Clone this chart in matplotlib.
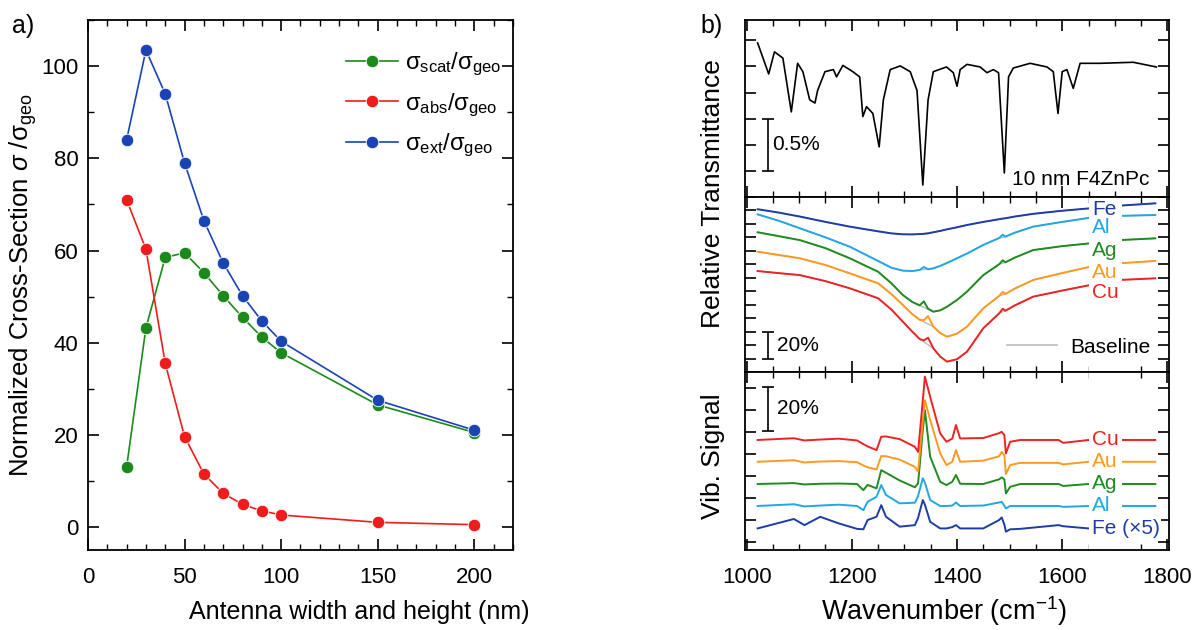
import matplotlib
matplotlib.use("Agg")
import matplotlib.pyplot as plt
import numpy as np
from matplotlib.ticker import MultipleLocator
from matplotlib.lines import Line2D

plt.rcParams["font.family"] = ["Liberation Sans", "DejaVu Sans"]
plt.rcParams["mathtext.fontset"] = "custom"
plt.rcParams["mathtext.rm"] = "Liberation Sans"
plt.rcParams["mathtext.it"] = "Liberation Sans:italic"
plt.rcParams["mathtext.bf"] = "Liberation Sans:bold"
plt.rcParams["xtick.direction"] = "in"
plt.rcParams["ytick.direction"] = "in"
plt.rcParams["xtick.top"] = True
plt.rcParams["ytick.right"] = True

# ---------------------------------------------------------------------------
# Data, panel a: normalized cross-sections vs antenna size
# ---------------------------------------------------------------------------
SIZE_NM = [20, 30, 40, 50, 60, 70, 80, 90, 100, 150, 200]
SIGMA_SCAT = [13.0, 43.2, 58.5, 59.5, 55.2, 50.2, 45.5, 41.2, 37.8, 26.5, 20.5]
SIGMA_ABS = [71.0, 60.3, 35.5, 19.6, 11.5, 7.3, 4.9, 3.5, 2.6, 1.0, 0.5]
SIGMA_EXT = [84.0, 103.5, 94.0, 79.0, 66.5, 57.3, 50.2, 44.7, 40.3, 27.5, 21.0]

# ---------------------------------------------------------------------------
# Data, panel b top: 10 nm F4ZnPc reference transmittance (%)
# ---------------------------------------------------------------------------
REF_WN = [1021, 1042, 1053, 1069, 1085, 1097, 1107, 1120, 1130, 1135, 1149,
          1165, 1171, 1183, 1202, 1215, 1221, 1228, 1240, 1252, 1260, 1273,
          1292, 1311, 1324, 1335, 1345, 1355, 1380, 1393, 1400, 1406, 1419,
          1444, 1457, 1469, 1479, 1490, 1498, 1507, 1539, 1571, 1583, 1592,
          1600, 1609, 1621, 1634, 1672, 1735, 1779]
REF_T = [1.475, 1.178, 1.39, 1.33, 0.815, 1.28, 1.2, 0.93, 0.9, 1.02, 1.2,
         1.22, 1.15, 1.26, 1.2, 1.15, 0.77, 0.865, 0.8, 0.48, 0.93, 1.22,
         1.255, 1.2, 1.02, 0.115, 0.93, 1.2, 1.245, 1.19, 1.06, 1.22, 1.27,
         1.245, 1.19, 1.22, 1.19, 0.23, 1.15, 1.235, 1.28, 1.245, 1.2, 0.8,
         1.2, 1.22, 1.04, 1.28, 1.28, 1.29, 1.245]

# ---------------------------------------------------------------------------
# Data, panel b middle: relative transmittance (%), offset curves
# ---------------------------------------------------------------------------
METALS = ["Fe", "Al", "Ag", "Au", "Cu"]
METAL_COLORS = ["#1d3ca8", "#22a6e6", "#1e8c1e", "#ff9922", "#ee2222"]

REL_WN = [1021, 1060, 1101, 1150, 1196, 1250, 1275, 1297, 1315, 1329, 1337,
          1345, 1355, 1368, 1381, 1400, 1419, 1450, 1480, 1487, 1492, 1510,
          1545, 1600, 1653, 1710, 1777]
# points that belong to the vibrational bumps (left out of the baselines)
REL_BUMP_WN = [1337, 1345, 1487]
REL_T = {
    "Fe": [120.9, 118.5, 115.5, 111.5, 108.0, 104.5, 103.0, 102.3, 102.2,
           102.5, 102.6, 103.0, 103.8, 104.8, 106.0, 107.5, 109.2, 111.5,
           113.5, 114.0, 114.2, 115.5, 117.5, 119.8, 121.6, 123.6, 125.3],
    "Al": [117.1, 112.5, 106.8, 100.0, 93.1, 82.5, 77.5, 75.3, 75.0, 75.8,
           78.0, 76.3, 77.0, 78.8, 81.0, 84.5, 88.0, 94.4, 99.5, 102.0, 100.5,
           103.5, 108.0, 111.5, 114.6, 116.0, 116.6],
    "Ag": [103.8, 101.0, 98.0, 92.0, 84.5, 74.5, 66.0, 57.2, 52.0, 49.5, 52.5,
           47.0, 44.8, 45.8, 48.5, 53.5, 59.7, 72.0, 80.0, 83.0, 81.5, 85.0,
           90.6, 93.5, 95.6, 98.0, 99.3],
    "Au": [89.4, 87.0, 84.5, 79.5, 73.3, 65.9, 58.0, 49.8, 43.0, 38.8, 38.5,
           41.5, 33.7, 29.0, 26.2, 28.5, 33.7, 47.3, 56.5, 59.5, 58.0, 62.0,
           68.4, 73.5, 78.2, 80.8, 82.5],
    "Cu": [75.0, 73.5, 72.0, 67.5, 62.2, 54.8, 46.5, 37.4, 30.0, 24.5, 23.5,
           25.5, 17.6, 11.5, 7.7, 9.5, 15.1, 32.5, 43.5, 47.0, 45.5, 49.5,
           56.0, 60.5, 64.6, 68.4, 69.6],
}

# ---------------------------------------------------------------------------
# Data, panel b bottom: vibrational signal (%), offset curves
# ---------------------------------------------------------------------------
VIB_WN = [1021, 1090, 1110, 1140, 1175, 1210, 1222, 1230, 1247, 1256, 1265,
          1291, 1320, 1326, 1335, 1339, 1349, 1368, 1380, 1391, 1398, 1406,
          1450, 1480, 1485, 1490, 1493, 1501, 1520, 1593, 1602, 1650, 1777]
VIB_S = {
    "Cu": [46.4, 47.2, 46.2, 46.6, 47.0, 46.2, 44.5, 43.5, 41.8, 47.9, 48.0,
           46.8, 43.3, 41.0, 64.5, 75.2, 66.0, 49.4, 45.6, 47.0, 53.2, 47.1,
           47.3, 49.5, 50.1, 48.6, 40.3, 45.6, 46.4, 46.4, 45.1, 46.4, 46.4],
    "Au": [36.5, 37.2, 36.2, 36.6, 36.8, 36.3, 34.8, 34.0, 33.0, 39.1, 39.0,
           37.5, 34.2, 32.0, 55.5, 64.5, 55.5, 40.3, 35.0, 36.5, 41.8, 36.5,
           37.0, 39.0, 41.0, 39.5, 30.9, 35.0, 36.0, 36.0, 35.3, 36.5, 36.5],
    "Ag": [26.4, 26.8, 26.2, 26.5, 26.6, 26.4, 23.6, 26.0, 24.4, 32.7, 31.5,
           28.0, 24.9, 26.7, 50.9, 60.0, 38.8, 27.4, 25.9, 27.4, 30.5, 26.5,
           26.4, 28.5, 29.4, 28.5, 22.1, 25.1, 26.4, 26.4, 25.5, 26.4, 26.4],
    "Al": [16.4, 17.2, 16.2, 16.6, 17.0, 16.4, 14.5, 18.3, 20.6, 25.9, 21.4,
           17.6, 17.9, 21.0, 29.0, 27.0, 19.1, 16.4, 16.4, 16.6, 18.0, 16.4,
           16.6, 18.0, 18.3, 16.5, 15.3, 16.4, 16.4, 16.4, 16.0, 16.4, 16.4],
    "Fe": [6.2, 10.5, 7.7, 11.5, 8.5, 6.0, 5.8, 10.0, 11.5, 16.8, 11.5,
           7.0, 7.7, 11.0, 19.1, 17.0, 9.2, 6.2, 6.2, 6.8, 7.7, 6.2,
           6.2, 10.0, 11.2, 8.0, 4.7, 5.8, 6.0, 7.7, 7.2, 6.2, 6.2],
}
VIB_LABELS = {"Cu": "Cu", "Au": "Au", "Ag": "Ag", "Al": "Al", "Fe": "Fe (\u00d75)"}

# label positions (text anchors) for panel b
REL_LABEL_Y = {"Fe": 121, "Al": 107, "Ag": 90, "Au": 74, "Cu": 59.4}
LABEL_WN = 1657
LABEL_GAP = (1651, 1713)

GREEN = "#1b8a1b"
RED = "#f01c1c"
BLUE = "#1a44b4"
TICK_FS = 16


def style_ticks(ax):
    ax.tick_params(which="major", length=8, width=1.2, labelsize=TICK_FS)
    ax.tick_params(which="minor", length=4.5, width=1.0)
    for sp in ax.spines.values():
        sp.set_linewidth(1.3)


fig = plt.figure(figsize=(11.97, 6.30), dpi=100)
fig.patch.set_facecolor("white")

# ---------------------------------------------------------------------------
# Panel a
# ---------------------------------------------------------------------------
ax = fig.add_axes([0.0735, 0.127, 0.355, 0.841])
for vals, col, lab in [(SIGMA_SCAT, GREEN, r"$\mathregular{\sigma_{scat}/\sigma_{geo}}$"),
                       (SIGMA_ABS, RED, r"$\mathregular{\sigma_{abs}/\sigma_{geo}}$"),
                       (SIGMA_EXT, BLUE, r"$\mathregular{\sigma_{ext}/\sigma_{geo}}$")]:
    ax.plot(SIZE_NM, vals, color=col, lw=1.2, marker="o", markersize=9,
            markeredgecolor="white", markeredgewidth=0.6, label=lab)
ax.set_xlim(0, 220)
ax.set_ylim(-5, 110)
ax.xaxis.set_major_locator(MultipleLocator(50))
ax.xaxis.set_minor_locator(MultipleLocator(10))
ax.yaxis.set_major_locator(MultipleLocator(20))
ax.yaxis.set_minor_locator(MultipleLocator(10))
style_ticks(ax)
ax.tick_params(axis="x", pad=12)
ax.tick_params(axis="y", pad=7)
ax.legend(loc="upper left", bbox_to_anchor=(0.585, 0.96), frameon=False,
          fontsize=17, handlelength=2.2, handletextpad=0.3, labelspacing=0.55,
          borderaxespad=0)
fig.text(0.3, 1 - 612 / 630, "Antenna width and height (nm)", fontsize=18,
         ha="center", va="center")
fig.text(0.019, 1 - 285 / 630,
         r"Normalized Cross-Section $\sigma$ /$\mathregular{\sigma_{geo}}$",
         fontsize=18.5, rotation=90, ha="center", va="center")
fig.text(0.01, 1 - 26 / 630, "a)", fontsize=18, ha="left", va="center")

# ---------------------------------------------------------------------------
# Panel b
# ---------------------------------------------------------------------------
bl, bw = 0.6224, 0.3542
ax_top = fig.add_axes([bl, 0.6873, bw, 0.281])
ax_mid = fig.add_axes([bl, 0.4095, bw, 0.2778], sharex=ax_top)
ax_bot = fig.add_axes([bl, 0.127, bw, 0.2825], sharex=ax_top)

for a in (ax_top, ax_mid, ax_bot):
    a.set_xlim(997, 1803)
    a.xaxis.set_major_locator(MultipleLocator(200))
    a.xaxis.set_minor_locator(MultipleLocator(50))
    style_ticks(a)
    a.tick_params(axis="y", labelleft=False, labelright=False)
    a.tick_params(axis="x", labelbottom=False)
ax_bot.tick_params(axis="x", labelbottom=True, pad=12)

# top: reference spectrum
ax_top.plot(REF_WN, REF_T, color="black", lw=1.2)
ax_top.set_ylim(0, 1.695)
ax_top.yaxis.set_major_locator(MultipleLocator(0.25))
ax_top.errorbar([1040], [0.5], yerr=[0.25], color="black", lw=1.2, capsize=4.5,
                capthick=1.2)
ax_top.text(1049, 0.5, "0.5%", fontsize=15, ha="left", va="center")
ax_top.text(1766, 0.17, "10 nm F4ZnPc", fontsize=15, ha="right", va="center")

# middle: relative transmittance with baselines
ax_mid.set_ylim(0, 130)
ax_mid.yaxis.set_major_locator(MultipleLocator(10))
wn = np.array(REL_WN)
keep = ~np.isin(wn, REL_BUMP_WN)
for m, c in zip(METALS, METAL_COLORS):
    y = np.array(REL_T[m])
    ax_mid.plot(wn[keep], y[keep], color="#bbbbbb", lw=1.0, zorder=1.5)
    ax_mid.plot(wn, y, color=c, lw=1.4, zorder=1.6)
    ax_mid.text(LABEL_WN, REL_LABEL_Y[m], m, color=c, fontsize=15,
                ha="left", va="center", zorder=5)
ax_mid.axvspan(*LABEL_GAP, color="white", zorder=1.8, lw=0)
ax_mid.errorbar([1040], [19.5], yerr=[10], color="black", lw=1.2, capsize=4.5,
                capthick=1.2)
ax_mid.text(1057, 19.5, "20%", fontsize=15, ha="left", va="center")
ax_mid.legend(handles=[Line2D([], [], color="#bbbbbb", lw=1.2)],
              labels=["Baseline"], loc="lower right", frameon=False,
              fontsize=15, handlelength=2.4, handletextpad=0.6,
              bbox_to_anchor=(0.975, 0.04), borderaxespad=0)

# bottom: vibrational signals
ax_bot.set_ylim(-3.6, 77.3)
ax_bot.yaxis.set_major_locator(MultipleLocator(10))
for m, c in zip(METALS, METAL_COLORS):
    ax_bot.plot(VIB_WN, VIB_S[m], color=c, lw=1.4, zorder=1.6)
    ax_bot.text(LABEL_WN, VIB_S[m][-1], VIB_LABELS[m], color=c, fontsize=15,
                ha="left", va="center", zorder=5,
                bbox=dict(facecolor="white", edgecolor="none", pad=0.5))
ax_bot.axvspan(*LABEL_GAP, color="white", zorder=1.8, lw=0)
ax_bot.errorbar([1040], [60.5], yerr=[10], color="black", lw=1.2, capsize=4.5,
                capthick=1.2)
ax_bot.text(1057, 60.5, "20%", fontsize=15, ha="left", va="center")

fig.text(0.7885, 1 - 611 / 630, r"Wavenumber (cm$^{\mathregular{-1}}$)",
         fontsize=19.5, ha="center", va="center")
fig.text(0.5955, 1 - 194 / 630, "Relative Transmittance", fontsize=19,
         rotation=90, ha="center", va="center")
fig.text(0.5955, 1 - 456 / 630, "Vib. Signal", fontsize=19,
         rotation=90, ha="center", va="center")
fig.text(0.585, 1 - 26 / 630, "b)", fontsize=18, ha="left", va="center")

fig.savefig("out.png", dpi=100, facecolor="white")
